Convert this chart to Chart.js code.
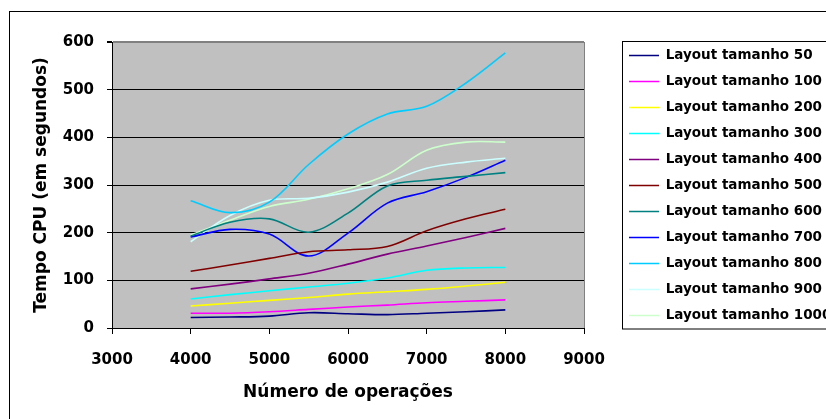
<!DOCTYPE html>
<html>
<head>
<meta charset="utf-8">
<script src="https://cdn.jsdelivr.net/npm/chart.js@4/dist/chart.umd.min.js"></script>
<style>
  html, body { margin: 0; padding: 0; background: #fff; overflow: hidden; }
  #wrap { width: 826px; height: 419px; position: relative; }
  canvas { display: block; }
</style>
</head>
<body>
<div id="wrap"><canvas id="cpu" width="826" height="419"></canvas></div>
<script>
// Number of operations (x values)
const operations = [4000, 4500, 5000, 5500, 6000, 6500, 7000, 7500, 8000];

// CPU time in seconds, one array per layout size
const layout50   = [22, 23, 25, 32, 30, 28, 31, 34, 38];
const layout100  = [31, 31, 34, 39, 44, 48, 53, 56, 59];
const layout200  = [46, 52, 58, 64, 71, 76, 81, 88, 96];
const layout300  = [61, 70, 78, 86, 94, 105, 121, 126, 127];
const layout400  = [82, 92, 103, 115, 134, 155, 172, 190, 209];
const layout500  = [119, 132, 146, 160, 164, 171, 204, 229, 249];
const layout600  = [193, 222, 229, 201, 241, 298, 310, 318, 326];
const layout700  = [191, 207, 197, 151, 199, 262, 286, 316, 352];
const layout800  = [267, 242, 264, 343, 407, 449, 465, 514, 577];
const layout900  = [181, 236, 268, 272, 285, 306, 335, 348, 356];
const layout1000 = [195, 226, 255, 270, 292, 322, 373, 390, 390];

const seriesLabels = [
  'Layout tamanho 50', 'Layout tamanho 100', 'Layout tamanho 200',
  'Layout tamanho 300', 'Layout tamanho 400', 'Layout tamanho 500',
  'Layout tamanho 600', 'Layout tamanho 700', 'Layout tamanho 800',
  'Layout tamanho 900', 'Layout tamanho 1000'
];
const seriesValues = [layout50, layout100, layout200, layout300, layout400,
  layout500, layout600, layout700, layout800, layout900, layout1000];
const seriesColors = ['#000080', '#FF00FF', '#FFFF00', '#00FFFF', '#800080',
  '#800000', '#008080', '#0000FF', '#00CCFF', '#CCFFFF', '#CCFFCC'];

const xTicks = [3000, 4000, 5000, 6000, 7000, 8000, 9000];
const yTicks = [0, 100, 200, 300, 400, 500, 600];

const datasets = seriesLabels.map((label, i) => ({
  label,
  data: operations.map((x, j) => ({ x, y: seriesValues[i][j] })),
  borderColor: seriesColors[i],
  backgroundColor: seriesColors[i],
  borderWidth: 1.6,
  pointRadius: 0,
  tension: 0.35,
  fill: false
}));

// Frame, plot background and legend box
const framePlugin = {
  id: 'frame',
  beforeLayout(chart) {
    const lg = chart.legend;
    if (lg && !lg._fixedWidth) {
      const fit = lg.fit.bind(lg);
      lg.fit = function () { fit(); this.width = 242; };
      lg._fixedWidth = true;
    }
  },
  afterLayout(chart) {
    const lg = chart.legend;
    if (!lg) return;
    const dx = 616.5 - lg.left;
    lg.left += dx; lg.right += dx;
    const dy = 185.5 - (lg.top + lg.bottom) / 2;
    lg.top += dy; lg.bottom += dy;
  },
  beforeDraw(chart) {
    const { ctx, chartArea: a } = chart;
    ctx.save();
    ctx.fillStyle = '#fff';
    ctx.fillRect(0, 0, chart.width, chart.height);
    ctx.strokeStyle = '#000';
    ctx.lineWidth = 1;
    ctx.strokeRect(9.5, 11.5, 900, 500);
    ctx.fillStyle = '#C0C0C0';
    ctx.fillRect(a.left, a.top, a.right - a.left, a.bottom - a.top);
    ctx.strokeStyle = '#808080';
    ctx.beginPath();
    ctx.moveTo(a.right + 0.5, a.top);
    ctx.lineTo(a.right + 0.5, a.bottom);
    ctx.stroke();
    ctx.restore();
  },
  afterDraw(chart) {
    const { ctx } = chart;
    ctx.save();
    ctx.strokeStyle = '#000';
    ctx.lineWidth = 1;
    ctx.strokeRect(622.5, 41.5, 300, 287.5);
    ctx.restore();
  }
};

Chart.defaults.font.family = '"DejaVu Sans", sans-serif';
Chart.defaults.font.weight = 'bold';
Chart.defaults.color = '#000';

new Chart(document.getElementById('cpu'), {
  type: 'line',
  data: { datasets },
  options: {
    responsive: false,
    animation: false,
    layout: { padding: { top: 42, left: 0, right: 0, bottom: 0 } },
    plugins: {
      legend: {
        position: 'right',
        fullSize: true,
        labels: {
          usePointStyle: true,
          pointStyle: 'line',
          pointStyleWidth: 30,
          padding: 12.5,
          color: '#000',
          font: { size: 13.5, weight: 'bold' }
        }
      },
      tooltip: { enabled: false }
    },
    scales: {
      x: {
        type: 'linear',
        min: 3000,
        max: 9000,
        afterBuildTicks(scale) { scale.ticks = xTicks.map(v => ({ value: v })); },
        afterFit(scale) { scale.height = 91; },
        ticks: {
          font: { size: 15, weight: 'bold' },
          padding: 17,
          color: '#000',
          callback: v => String(v)
        },
        grid: { display: true, drawOnChartArea: false, drawTicks: true, tickLength: 6, color: '#000', tickColor: '#000' },
        border: { color: '#000', width: 1 },
        title: {
          display: true,
          text: 'Número de operações',
          font: { size: 17, weight: 'bold' },
          color: '#000',
          padding: { top: 0, bottom: 16 }
        }
      },
      y: {
        min: 0,
        max: 600,
        afterBuildTicks(scale) { scale.ticks = yTicks.map(v => ({ value: v })); },
        afterFit(scale) { scale.width = 112; },
        ticks: {
          font: { size: 15, weight: 'bold' },
          padding: 13,
          color: '#000',
          callback: v => String(v)
        },
        grid: {
          drawTicks: true,
          tickLength: 5,
          tickColor: '#000',
          color: c => (c.tick && c.tick.value === 600 ? '#808080' : '#000'),
          lineWidth: c => (c.tick && c.tick.value === 600 ? 2 : 1)
        },
        border: { color: '#000', width: 1 },
        title: {
          display: true,
          text: 'Tempo CPU (em segundos)',
          font: { size: 17, weight: 'bold' },
          color: '#000',
          padding: { top: 31, bottom: 0 }
        }
      }
    }
  },
  plugins: [framePlugin]
});
</script>
</body>
</html>
